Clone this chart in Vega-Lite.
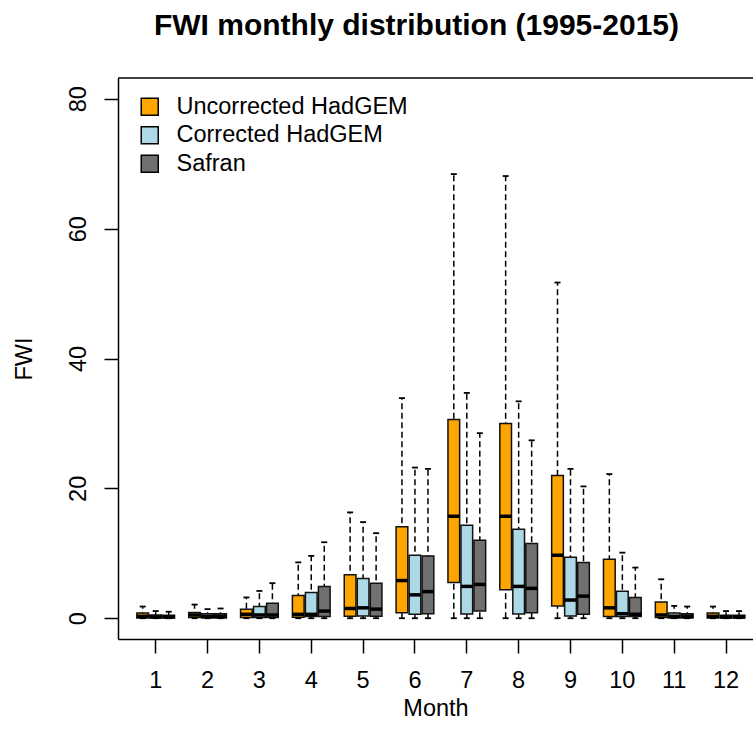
{
  "$schema": "https://vega.github.io/schema/vega-lite/v6.json",
  "width": 635,
  "height": 561,
  "autosize": {"type": "none"},
  "padding": {"left": 118, "top": 78, "right": 0, "bottom": 107},
  "background": "white",
  "config": {
    "view": {"stroke": null},
    "font": "Liberation Sans",
    "axis": {
      "domainColor": "black", "domainWidth": 1.5,
      "tickColor": "black", "tickWidth": 1.5, "tickSize": 14,
      "labelFont": "Liberation Sans", "labelFontSize": 23.5, "labelColor": "black",
      "titleFont": "Liberation Sans", "titleFontSize": 23.5, "titleFontWeight": "normal", "titleColor": "black",
      "grid": false
    }
  },
  "title": {
    "text": "FWI monthly distribution (1995-2015)",
    "fontSize": 30, "fontWeight": "bold", "font": "Liberation Sans", "color": "black",
    "frame": "group", "anchor": "middle", "dx": -19, "baseline": "alphabetic", "offset": 12
  },
  "data": {"values": [
    {"Month": 1, "Series": "Uncorrected HadGEM", "lo": 0, "q1": 0.05, "med": 0.3, "q3": 0.8, "hi": 1.8},
    {"Month": 1, "Series": "Corrected HadGEM", "lo": 0, "q1": 0.05, "med": 0.2, "q3": 0.5, "hi": 1.1},
    {"Month": 1, "Series": "Safran", "lo": 0, "q1": 0.05, "med": 0.2, "q3": 0.45, "hi": 1.0},
    {"Month": 2, "Series": "Uncorrected HadGEM", "lo": 0, "q1": 0.1, "med": 0.5, "q3": 0.9, "hi": 2.1},
    {"Month": 2, "Series": "Corrected HadGEM", "lo": 0, "q1": 0.05, "med": 0.3, "q3": 0.7, "hi": 1.4},
    {"Month": 2, "Series": "Safran", "lo": 0, "q1": 0.05, "med": 0.3, "q3": 0.7, "hi": 1.5},
    {"Month": 3, "Series": "Uncorrected HadGEM", "lo": 0, "q1": 0.1, "med": 0.6, "q3": 1.4, "hi": 3.2},
    {"Month": 3, "Series": "Corrected HadGEM", "lo": 0, "q1": 0.1, "med": 0.5, "q3": 1.8, "hi": 4.2},
    {"Month": 3, "Series": "Safran", "lo": 0, "q1": 0.1, "med": 0.5, "q3": 2.3, "hi": 5.4},
    {"Month": 4, "Series": "Uncorrected HadGEM", "lo": 0, "q1": 0.15, "med": 0.6, "q3": 3.5, "hi": 8.6},
    {"Month": 4, "Series": "Corrected HadGEM", "lo": 0, "q1": 0.25, "med": 0.6, "q3": 3.95, "hi": 9.6},
    {"Month": 4, "Series": "Safran", "lo": 0, "q1": 0.25, "med": 1.1, "q3": 4.9, "hi": 11.7},
    {"Month": 5, "Series": "Uncorrected HadGEM", "lo": 0, "q1": 0.3, "med": 1.5, "q3": 6.7, "hi": 16.3},
    {"Month": 5, "Series": "Corrected HadGEM", "lo": 0, "q1": 0.35, "med": 1.6, "q3": 6.1, "hi": 14.8},
    {"Month": 5, "Series": "Safran", "lo": 0, "q1": 0.3, "med": 1.4, "q3": 5.4, "hi": 13.1},
    {"Month": 6, "Series": "Uncorrected HadGEM", "lo": 0, "q1": 0.85, "med": 5.8, "q3": 14.1, "hi": 33.9},
    {"Month": 6, "Series": "Corrected HadGEM", "lo": 0, "q1": 0.6, "med": 3.6, "q3": 9.7, "hi": 23.2},
    {"Month": 6, "Series": "Safran", "lo": 0, "q1": 0.7, "med": 4.1, "q3": 9.6, "hi": 23.0},
    {"Month": 7, "Series": "Uncorrected HadGEM", "lo": 0, "q1": 5.5, "med": 15.7, "q3": 30.6, "hi": 68.4},
    {"Month": 7, "Series": "Corrected HadGEM", "lo": 0, "q1": 0.65, "med": 4.9, "q3": 14.3, "hi": 34.7},
    {"Month": 7, "Series": "Safran", "lo": 0, "q1": 1.1, "med": 5.2, "q3": 12.0, "hi": 28.5},
    {"Month": 8, "Series": "Uncorrected HadGEM", "lo": 0, "q1": 4.4, "med": 15.7, "q3": 30.0, "hi": 68.1},
    {"Month": 8, "Series": "Corrected HadGEM", "lo": 0, "q1": 0.65, "med": 4.9, "q3": 13.7, "hi": 33.4},
    {"Month": 8, "Series": "Safran", "lo": 0, "q1": 0.85, "med": 4.6, "q3": 11.5, "hi": 27.4},
    {"Month": 9, "Series": "Uncorrected HadGEM", "lo": 0, "q1": 1.9, "med": 9.7, "q3": 22.0, "hi": 51.7},
    {"Month": 9, "Series": "Corrected HadGEM", "lo": 0, "q1": 0.35, "med": 2.8, "q3": 9.4, "hi": 23.0},
    {"Month": 9, "Series": "Safran", "lo": 0, "q1": 0.6, "med": 3.4, "q3": 8.6, "hi": 20.3},
    {"Month": 10, "Series": "Uncorrected HadGEM", "lo": 0, "q1": 0.25, "med": 1.6, "q3": 9.1, "hi": 22.2},
    {"Month": 10, "Series": "Corrected HadGEM", "lo": 0, "q1": 0.25, "med": 0.7, "q3": 4.15, "hi": 10.1},
    {"Month": 10, "Series": "Safran", "lo": 0, "q1": 0.25, "med": 0.6, "q3": 3.2, "hi": 7.8},
    {"Month": 11, "Series": "Uncorrected HadGEM", "lo": 0, "q1": 0.1, "med": 0.5, "q3": 2.5, "hi": 6.0},
    {"Month": 11, "Series": "Corrected HadGEM", "lo": 0, "q1": 0.05, "med": 0.3, "q3": 0.8, "hi": 1.9},
    {"Month": 11, "Series": "Safran", "lo": 0, "q1": 0.05, "med": 0.3, "q3": 0.7, "hi": 1.8},
    {"Month": 12, "Series": "Uncorrected HadGEM", "lo": 0, "q1": 0.05, "med": 0.3, "q3": 0.8, "hi": 1.8},
    {"Month": 12, "Series": "Corrected HadGEM", "lo": 0, "q1": 0.05, "med": 0.2, "q3": 0.45, "hi": 1.1},
    {"Month": 12, "Series": "Safran", "lo": 0, "q1": 0.05, "med": 0.2, "q3": 0.45, "hi": 1.1}
  ]},
  "layer": [
    {
      "mark": {"type": "rule", "strokeDash": [6, 3.5], "strokeWidth": 1.5, "color": "black"},
      "encoding": {
        "x": {"field": "Month", "type": "ordinal",
              "scale": {"paddingInner": 0, "paddingOuter": 0.1235, "align": 0.92},
              "axis": {"labelAngle": 0, "labelPadding": 15, "title": "Month", "titlePadding": 5}},
        "xOffset": {"field": "Series", "type": "nominal",
                    "scale": {"domain": ["Uncorrected HadGEM", "Corrected HadGEM", "Safran"], "paddingInner": 0.1, "paddingOuter": 0.544}},
        "y": {"field": "lo", "type": "quantitative",
              "scale": {"domain": [-3.2, 83.2], "nice": false, "zero": false},
              "axis": {"values": [0, 20, 40, 60, 80], "labelAngle": -90, "labelAlign": "center", "labelBaseline": "alphabetic", "labelPadding": 19, "title": "FWI", "titlePadding": 30}},
        "y2": {"field": "hi"}
      }
    },
    {
      "mark": {"type": "bar", "stroke": "#111111", "strokeWidth": 1.5, "opacity": 1},
      "encoding": {
        "x": {"field": "Month", "type": "ordinal"},
        "xOffset": {"field": "Series", "type": "nominal"},
        "y": {"field": "q1", "type": "quantitative"},
        "y2": {"field": "q3"},
        "color": {"field": "Series", "type": "nominal",
                  "scale": {"domain": ["Uncorrected HadGEM", "Corrected HadGEM", "Safran"], "range": ["#FFA500", "#ADD8E6", "#707070"]},
                  "legend": {"title": null, "orient": "none", "legendX": 20, "legendY": 17, "padding": 0,
                             "symbolType": "square", "symbolSize": 289, "symbolStrokeColor": "black", "symbolStrokeWidth": 1.5, "symbolOpacity": 1,
                             "labelFontSize": 23.5, "labelFont": "Liberation Sans", "labelColor": "black", "labelLimit": 500, "rowPadding": 3.5, "labelOffset": 15}}
      }
    },
    {
      "mark": {"type": "tick", "orient": "horizontal", "size": 12, "thickness": 3.5, "color": "black", "opacity": 1},
      "encoding": {
        "x": {"field": "Month", "type": "ordinal"},
        "xOffset": {"field": "Series", "type": "nominal"},
        "y": {"field": "med", "type": "quantitative"}
      }
    },
    {
      "mark": {"type": "tick", "orient": "horizontal", "size": 6, "thickness": 1.8, "color": "black", "opacity": 1},
      "encoding": {
        "x": {"field": "Month", "type": "ordinal"},
        "xOffset": {"field": "Series", "type": "nominal"},
        "y": {"field": "hi", "type": "quantitative"}
      }
    },
    {
      "mark": {"type": "tick", "orient": "horizontal", "size": 6, "thickness": 1.8, "color": "black", "opacity": 1},
      "encoding": {
        "x": {"field": "Month", "type": "ordinal"},
        "xOffset": {"field": "Series", "type": "nominal"},
        "y": {"field": "lo", "type": "quantitative"}
      }
    },
    {
      "data": {"values": [{}]},
      "mark": {"type": "rule", "color": "black", "strokeWidth": 1.5},
      "encoding": {"y": {"datum": 83.2, "type": "quantitative"}}
    }
  ]
}
